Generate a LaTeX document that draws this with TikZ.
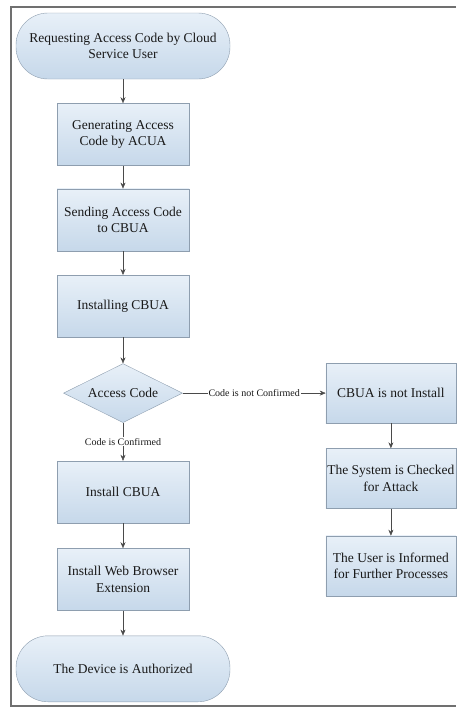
\documentclass[tikz,border=0pt]{standalone}
\usepackage{fontspec}
\setmainfont{Liberation Serif}
\usetikzlibrary{positioning,shapes.geometric,arrows.meta}
\definecolor{boxtop}{HTML}{E8F0F8}
\definecolor{boxbot}{HTML}{C6D8EA}
\definecolor{boxline}{HTML}{8E9EAF}
\definecolor{arrowgray}{HTML}{4A4A4A}
\definecolor{framegray}{HTML}{707070}

\begin{document}
\begin{tikzpicture}[x=1pt,y=1pt,
    proc/.style={draw=boxline, top color=boxtop, bottom color=boxbot,
      minimum width=132pt, minimum height=62pt, align=center, inner sep=1pt,
      text=black!90, font=\fontsize{13.5}{16.5}\selectfont},
    procr/.style={proc, minimum width=130pt, minimum height=60pt},
    term/.style={proc, rounded corners=32pt, minimum width=214pt, minimum height=66pt},
    dec/.style={proc, diamond, aspect=2, minimum width=119pt, minimum height=59pt, inner sep=0pt},
    lbl/.style={fill=white, inner sep=1pt, text=black!90, font=\fontsize{10}{12}\selectfont},
    flow/.style={draw=arrowgray, -{Stealth[length=6pt,width=5pt]}}]
    \useasboundingbox (0,0) rectangle (456,-707);
    % frame, open on the right where the picture is cut
    \draw[framegray, line width=2pt] (456,-7) -- (11,-7) -- (11,-706) -- (456,-706);

    \node[term] (req) at (123,-46) {Requesting Access Code by Cloud\\Service User};
    \node[proc] (gen) [below=24pt of req] {Generating Access\\Code by ACUA};
    \node[proc] (send) [below=23pt of gen] {Sending Access Code\\to CBUA};
    \node[proc] (instg) [below=24pt of send] {Installing CBUA};
    \node[dec] (acc) [below=26pt of instg] {Access Code};
    \node[proc] (inst) [below=38pt of acc] {Install CBUA};
    \node[proc] (ext) [below=25pt of inst] {Install Web Browser\\Extension};
    \node[term] (auth) [below=25pt of ext] {The Device is Authorized};
    \node[procr] (notinst) [right=143pt of acc] {CBUA is not Install};
    \node[procr] (check) [below=25pt of notinst] {The System is Checked\\for Attack};
    \node[procr] (inform) [below=27pt of check] {The User is Informed\\for Further Processes};

    \draw[flow] (req) -- (gen);
    \draw[flow] (gen) -- (send);
    \draw[flow] (send) -- (instg);
    \draw[flow] (instg) -- (acc);
    \draw[flow] (acc) -- node[lbl]{Code is Confirmed} (inst);
    \draw[flow] (inst) -- (ext);
    \draw[flow] (ext) -- (auth);
    \draw[flow] (acc) -- node[lbl]{Code is not Confirmed} (notinst);
    \draw[flow] (notinst) -- (check);
    \draw[flow] (check) -- (inform);
\end{tikzpicture}
\end{document}
